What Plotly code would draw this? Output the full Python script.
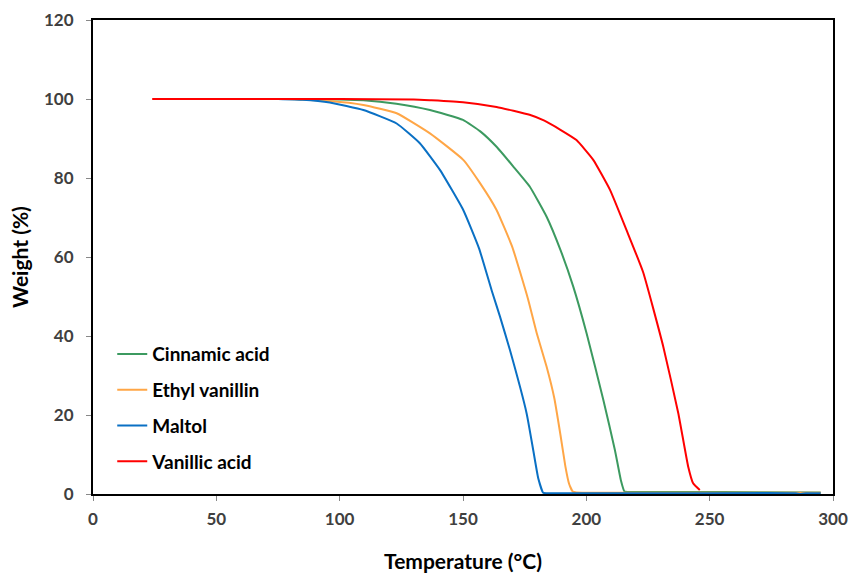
import plotly.graph_objects as go

# Temperature (°C) / Weight (%)
cin_T = [80, 100, 109.6, 123, 136.6, 150, 157, 163.6, 170.4, 177.1, 183.9, 189.5, 194.7, 200.1, 206.9, 211.6, 214, 215.5, 217, 240, 270, 295]
cin_W = [100, 99.9, 99.7, 98.8, 97.2, 94.7, 91.8, 87.9, 82.9, 77.8, 70.2, 61.8, 52.5, 40.7, 23.8, 11.1, 3.5, 0.6, 0.5, 0.5, 0.45, 0.4]

eth_T = [78, 96, 109.6, 123.1, 136.6, 150.1, 156.9, 163.6, 170.0, 176.3, 179.9, 183.9, 187.0, 189.5, 191.5, 193, 194.5, 196, 210, 240, 295]
eth_W = [100, 99.5, 98.5, 96.4, 91.3, 84.6, 78.7, 71.9, 62.5, 49.5, 40.7, 32.2, 24.3, 15.0, 7.0, 2.6, 0.6, 0.4, 0.3, 0.3, 0.3]

mal_T = [75, 85, 96, 109.6, 123.1, 132.5, 140.7, 150.1, 156.5, 161.6, 165, 169, 175.8, 178.5, 180.5, 182.5, 184, 200, 240, 285, 287, 289, 295]
mal_W = [100, 99.8, 99.1, 97.2, 93.8, 88.8, 82, 71.9, 62.2, 51.6, 44.9, 36.5, 20.4, 11.0, 4.0, 0.3, 0.2, 0.2, 0.2, 0.2, 0.0, 0.2, 0.2]

van_T = [24, 100, 130, 136.6, 150, 163.6, 177, 183, 189.5, 196, 202.8, 209.6, 216.3, 223, 231.2, 237.3, 241.3, 243.3, 246]
van_W = [100, 100, 99.9, 99.7, 99.2, 98, 96, 94.5, 92.2, 89.6, 84.6, 77, 66.8, 56.2, 37.3, 20.4, 6.9, 2.7, 1.0]

series = [
    ("Cinnamic acid", cin_T, cin_W, "#3C9A60"),
    ("Ethyl vanillin", eth_T, eth_W, "#FFA646"),
    ("Maltol", mal_T, mal_W, "#0A70C4"),
    ("Vanillic acid", van_T, van_W, "#FF0000"),
]

x_ticks = [0, 50, 100, 150, 200, 250, 300]
y_ticks = [0, 20, 40, 60, 80, 100, 120]

fig = go.Figure()
for name, t, w, c in series:
    fig.add_trace(go.Scatter(x=t, y=w, mode="lines", name=name, legendgroup=name,
                             line=dict(color=c, width=2, shape="spline", smoothing=0.4)))

tickfont = dict(family="Lato", size=17, color="#404040", weight="bold")
titlefont = dict(family="Lato", size=21, color="black", weight="bold")
legfont = dict(family="Lato", size=19, color="black", weight="bold")

fig.update_layout(
    width=851, height=573,
    margin=dict(l=93, r=18, t=20, b=79),
    plot_bgcolor="white", paper_bgcolor="white",
    showlegend=True,
    legend=dict(x=0.026, y=0.335, xanchor="left", yanchor="top",
                bgcolor="rgba(0,0,0,0)", font=legfont, tracegroupgap=8,
                itemwidth=30),
    xaxis=dict(range=[0, 300], tickvals=x_ticks, showline=True, mirror=True,
               linecolor="black", linewidth=2, ticks="outside", tickcolor="#888888",
               ticklen=5, showgrid=False, zeroline=False, tickfont=tickfont,
               automargin=False, ticklabelstandoff=4,
               title=dict(text="Temperature (°C)", font=titlefont, standoff=27)),
    yaxis=dict(range=[0, 120], tickvals=y_ticks, showline=True, mirror=True,
               linecolor="black", linewidth=2, ticks="outside", tickcolor="#888888",
               ticklen=5, showgrid=False, zeroline=False, tickfont=tickfont,
               automargin=False, ticklabelstandoff=9,
               title=dict(text="Weight (%)", font=titlefont, standoff=10)),
)

fig.write_html("out.html")
